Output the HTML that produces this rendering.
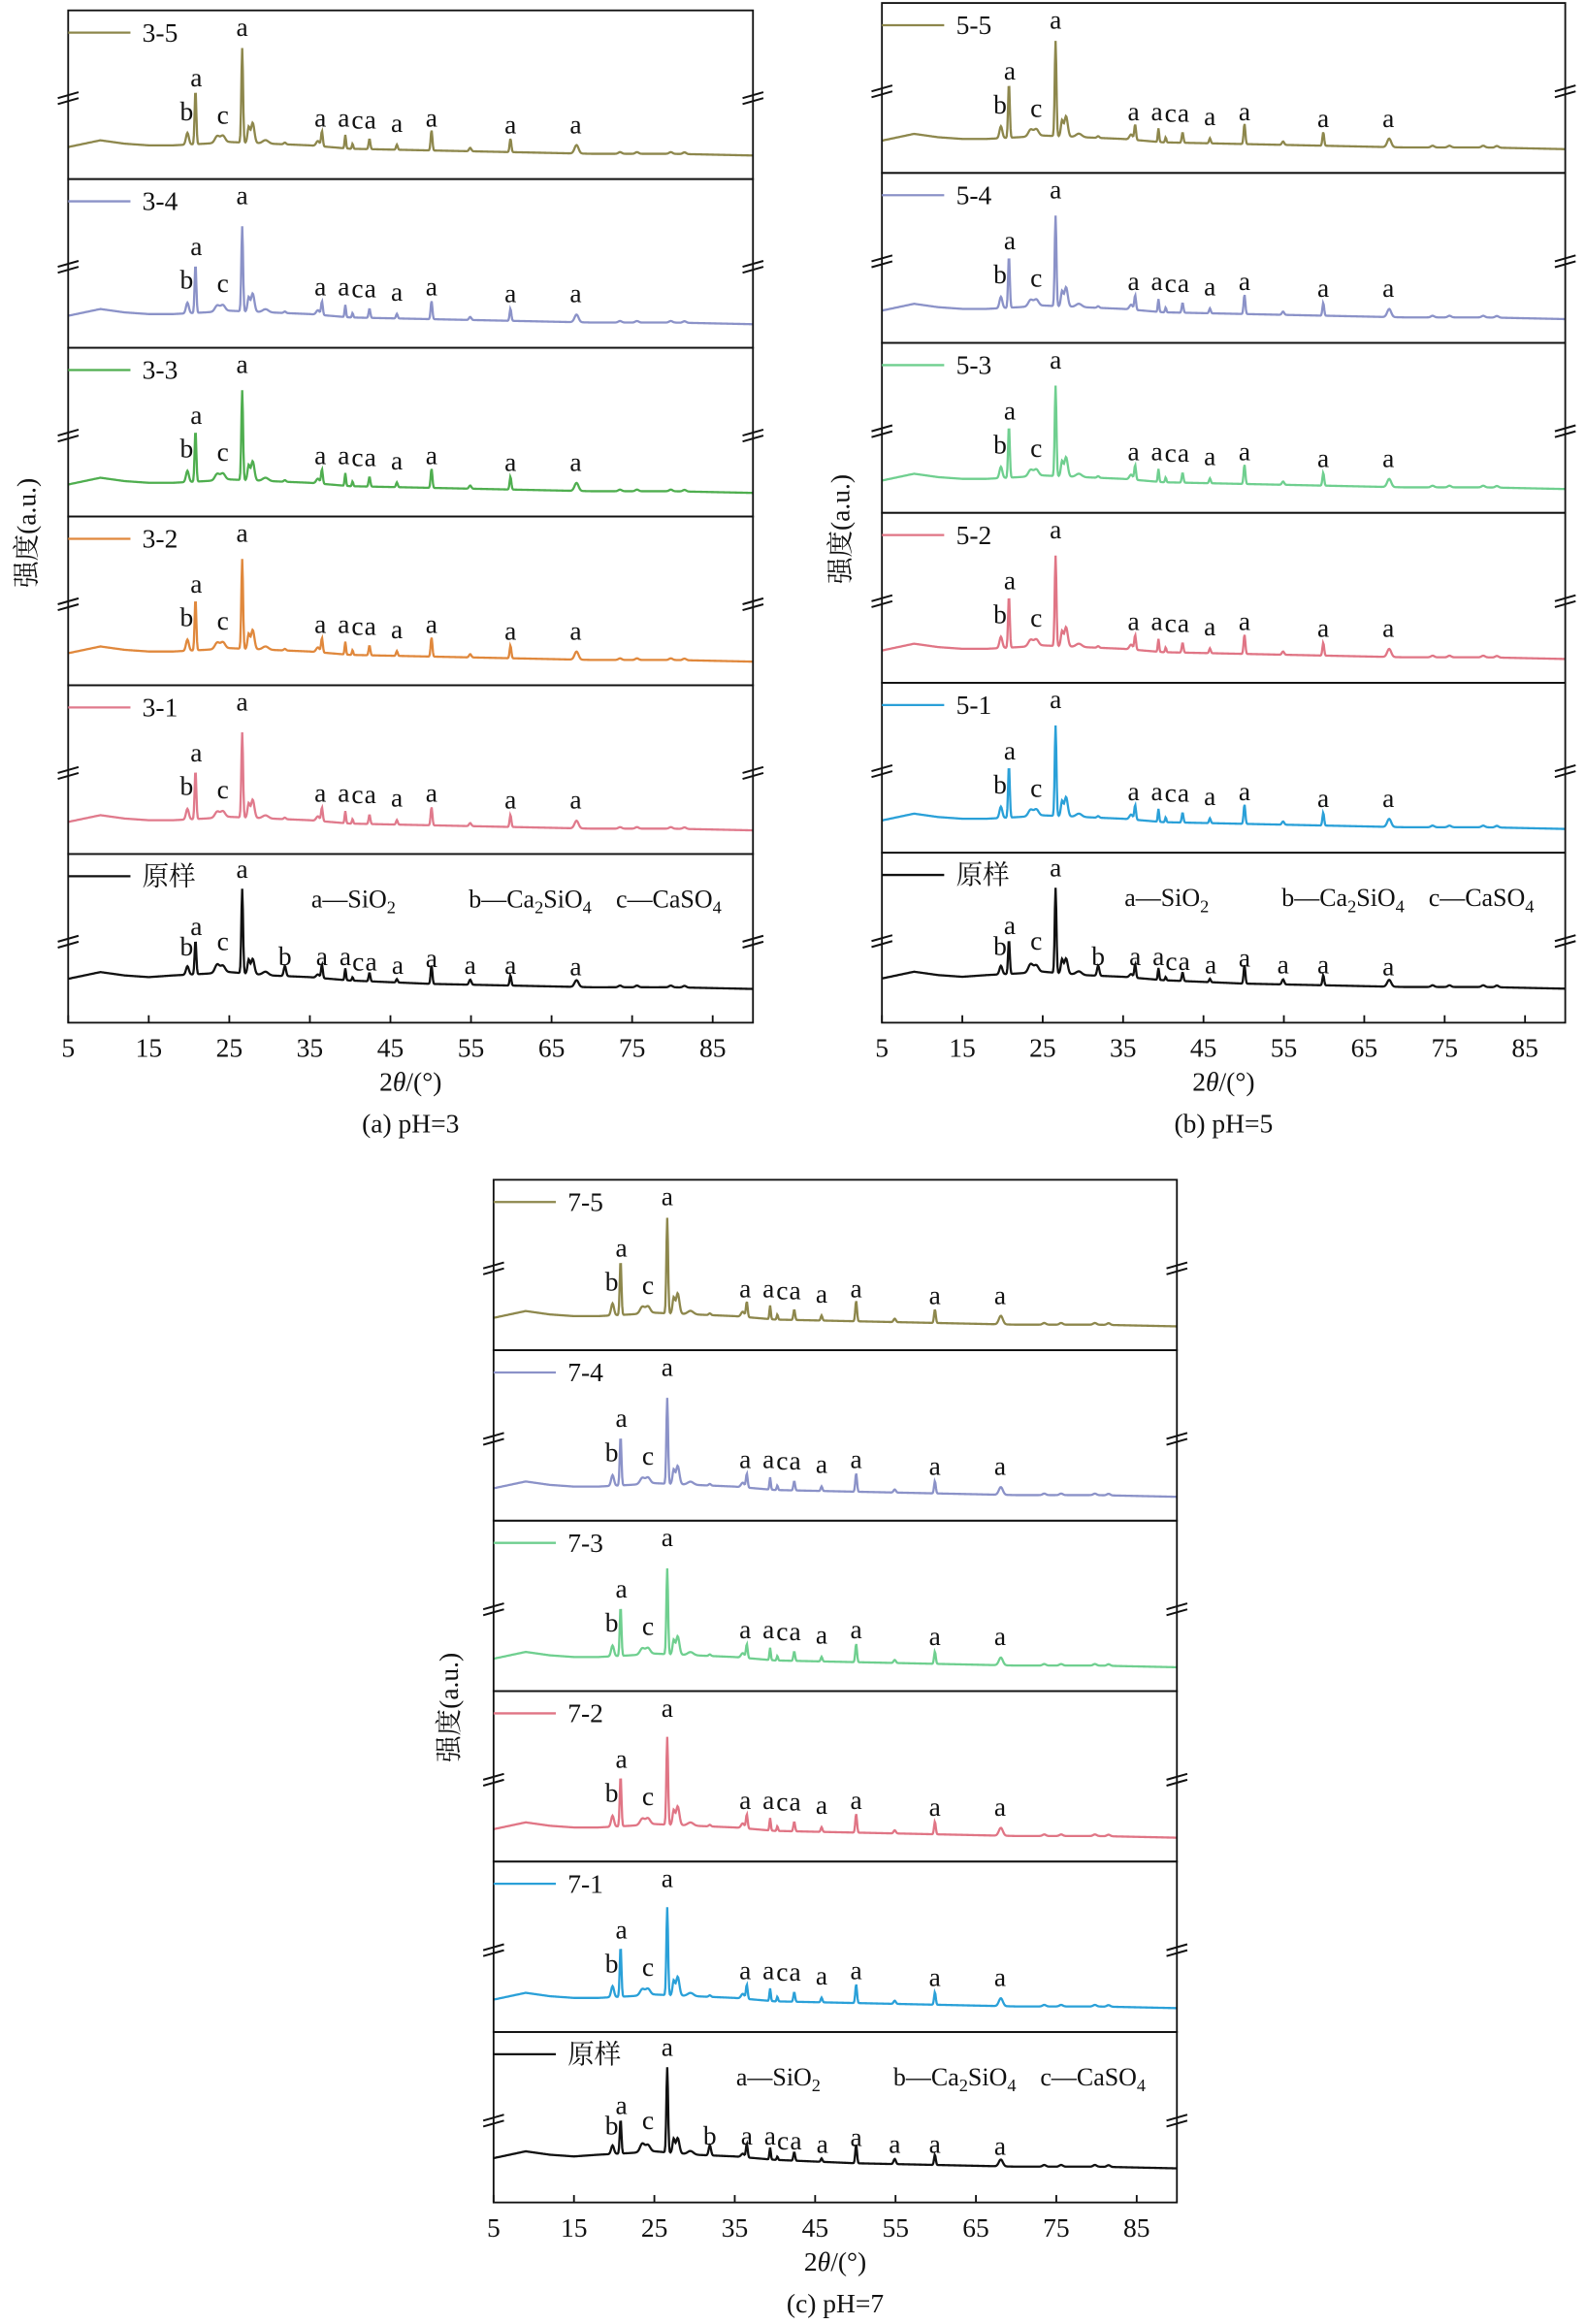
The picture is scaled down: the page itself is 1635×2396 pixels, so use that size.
<!DOCTYPE html>
<html><head><meta charset="utf-8">
<style>
html,body{margin:0;padding:0;background:#fff;}
svg{display:block;}
text{font-family:"Liberation Serif","Noto Serif CJK SC",serif;fill:#111;}
</style></head>
<body>
<svg id="fig" width="1635" height="2396" viewBox="0 0 1070 1568" xmlns="http://www.w3.org/2000/svg"></svg>
<script>
// ---- data ----
const bgPos = [5,7,9,12,15,18,22,25,30,35,40,50,60,70,80,90];
const bgTreated = [19,21,23,21,20,20,21,22,21,20,18,17,16,15,15,14];
const bgRaw = [26,28,30,28,27,28,29,30,28,27,25,23,22,21,21,20];
const peakPos = [19.8,20.8,23.5,24.2,26.6,27.4,27.9,29.5,31.9,36.0,36.5,39.4,40.3,42.4,45.8,50.1,54.9,59.9,68.1,73.5,75.6,79.8,81.5];
const peakTreated = [7,32,4,4,56,9,12,2,1,3,9,8,3,6,3,12,2,8,5,1,1,1,1];
const peakRaw = [5,20,5,4,50,8,9,2,6,2,8,7,2,5,2,11,3,6,4,1,1,1,1];
const peakWidth = [0.25,0.15,0.4,0.4,0.15,0.2,0.3,0.5,0.2,0.3,0.15,0.12,0.12,0.15,0.15,0.15,0.2,0.15,0.35,0.3,0.3,0.3,0.3];
const lblTreatedX = [19.7,20.9,24.2,26.6,36.3,39.2,40.9,42.5,45.8,50.1,59.9,68.0];
const lblTreatedT = ["b","a","c","a","a","a","c","a","a","a","a","a"];
const lblTreatedV = [35,55,33,85,31,31,30,30,28,31,27,27];
const lblRawX = [19.7,20.9,24.2,26.6,31.9,36.5,39.4,41.0,42.6,45.9,50.1,54.9,59.9,68.0];
const lblRawT = ["b","a","c","a","b","a","a","c","a","a","a","a","a","a"];
const lblRawV = [40,52,43,86,34,34,34,31,31,29,33,29,29,28];
const xTicks = [5,15,25,35,45,55,65,75,85];
const panelNames = [["3-5","3-4","3-3","3-2","3-1","原样"],["5-5","5-4","5-3","5-2","5-1","原样"],["7-5","7-4","7-3","7-2","7-1","原样"]];
const panelColors = [["#8d874c","#8b92c8","#4fae4f","#e0883c","#e07a8c","#111"],["#8d874c","#8b92c8","#6fcf8f","#e07585","#2aa0d8","#111"],["#8d874c","#8b92c8","#6fcf8f","#e07585","#2aa0d8","#111"]];
const panelScale = [[1,0.9,0.95,0.95,0.9,1],[1,0.95,0.95,0.95,0.95,1],[1,0.9,0.9,0.92,0.92,1]];
const captions = ["(a) pH=3","(b) pH=5","(c) pH=7"];
// layout (viewBox units)
const panels = [
 {L:46,R:508,T:7,B:690,ylx:18},
 {L:595,R:1056,T:2,B:690,ylx:567},
 {L:333,R:794,T:796,B:1486,ylx:303}
];
const NS="http://www.w3.org/2000/svg";
const svg=document.getElementById('fig');
function mk(tag,attrs,parent){const e=document.createElementNS(NS,tag);for(const k in attrs)e.setAttribute(k,attrs[k]);(parent||svg).appendChild(e);return e;}
function interp(x){for(let i=0;i<bgPos.length-1;i++){if(x<=bgPos[i+1]){const t=(x-bgPos[i])/(bgPos[i+1]-bgPos[i]);return [t,i];}}return [1,bgPos.length-2];}
function bgVal(arr,x){const [t,i]=interp(x);return arr[i]*(1-t)+arr[i+1]*t;}

panels.forEach((p,pi)=>{
  const g=mk('g',{});
  
  
  const h=(p.B-p.T)/6;
  const xs=v=>p.L+(v-5)/85*(p.R-p.L);
  for(let s=0;s<6;s++){
    const top=p.T+s*h, bot=top+h;
    const ys=v=>bot-v/100*h;
    const raw=s===5;
    const bg=raw?bgRaw:bgTreated, pk=raw?peakRaw:peakTreated;
    const sc=panelScale[pi][s];
    let d='';
    for(let x=5;x<=90.001;x+=0.08){
      let v=bgVal(bg,x);
      for(let k=0;k<peakPos.length;k++){const z=(x-peakPos[k])/peakWidth[k];if(Math.abs(z)<5)v+=pk[k]*sc*Math.exp(-z*z);}
      d+=(d?'L':'M')+xs(x).toFixed(2)+','+ys(v).toFixed(2);
    }
    const line=mk('path',{d:d,fill:'none',stroke:panelColors[pi][s],'stroke-width':1.5},g);
    
    
    const fr=mk('rect',{x:p.L,y:top,width:p.R-p.L,height:h,fill:'none',stroke:'#111','stroke-width':1.2},g);
    
    
    const ly=top+15;
    const lg=mk('line',{x1:p.L,y1:ly,x2:p.L+42,y2:ly,stroke:panelColors[pi][s],'stroke-width':1.5},g);
    
    
    const lt=mk('text',{x:p.L+50,y:ly+6,'font-size':18},g);
    lt.textContent=panelNames[pi][s];
    
    
    [p.L,p.R].forEach(bx=>{
      const by=bot-h*0.48;
      for(const o of [-2,2]){
        const bm=mk('line',{x1:bx-7,y1:by+o+2,x2:bx+7,y2:by+o-2,stroke:'#111','stroke-width':1.3},g);
        
        
      }
    });
    const lx=raw?lblRawX:lblTreatedX, ltx=raw?lblRawT:lblTreatedT, lv=raw?lblRawV:lblTreatedV;
    for(let k=0;k<lx.length;k++){
      const t=mk('text',{x:xs(lx[k]),y:ys(lv[k]),'font-size':18,'text-anchor':'middle'},g);
      t.textContent=ltx[k];
      
      
    }
    if(raw){
      const lgx=[p.L+(p.R-p.L)*0.355, p.L+(p.R-p.L)*0.585, p.L+(p.R-p.L)*0.80];
      const items=[['a—SiO','2',''],['b—Ca','2','SiO','4'],['c—CaSO','4']];
      items.forEach((it,ii)=>{
        const t=mk('text',{x:lgx[ii],y:top+36,'font-size':17},g);
        
        
        it.forEach((seg,si)=>{ if(!seg)return; const ts=mk('tspan',{},t); ts.textContent=seg;
          if(si%2===1){ts.setAttribute('font-size','12');ts.setAttribute('dy','4');} else if(si>0){ts.setAttribute('dy','-4');}
        });
      });
    }
  }
  xTicks.forEach(v=>{
    const tk=mk('line',{x1:xs(v),y1:p.B,x2:xs(v),y2:p.B-5,stroke:'#111','stroke-width':1.2},g);
    
    
    const tl=mk('text',{x:xs(v),y:p.B+23,'font-size':18,'text-anchor':'middle'},g);
    tl.textContent=v;
    
    
  });
  const xl=mk('text',{x:(p.L+p.R)/2,y:p.B+46,'font-size':18,'text-anchor':'middle'},g);
  xl.innerHTML='2<tspan font-style="italic">θ</tspan>/(°)';
  
  
  const cp=mk('text',{x:(p.L+p.R)/2,y:p.B+74,'font-size':18,'text-anchor':'middle'},g);
  cp.textContent=captions[pi];
  
  
  const cy=(p.T+p.B)/2+5;
  const yl=mk('text',{x:p.ylx,y:cy,'font-size':18,'text-anchor':'middle',transform:'rotate(-90 '+(p.ylx+6)+' '+cy+')'},g);
  yl.textContent='强度(a.u.)';
  
  
});
</script>
</body></html>
